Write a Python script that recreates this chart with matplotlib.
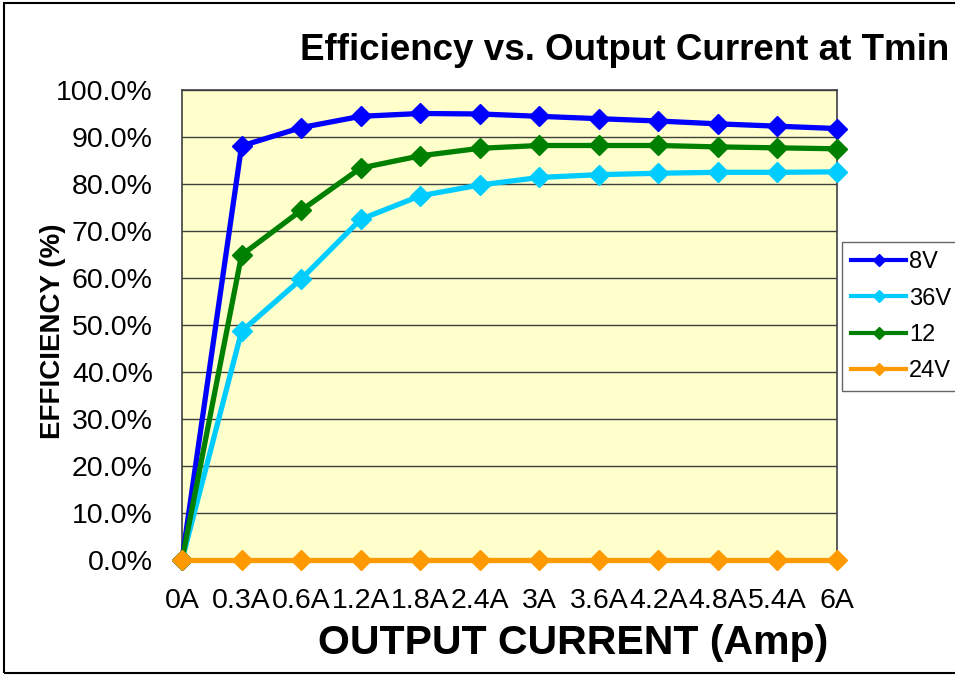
import matplotlib
matplotlib.use("Agg")
import matplotlib.pyplot as plt
from matplotlib.lines import Line2D
from matplotlib.patches import Rectangle
from matplotlib.ticker import FuncFormatter

plt.rcParams['font.family'] = ['Liberation Sans', 'DejaVu Sans']

currents = ["0A", "0.3A", "0.6A", "1.2A", "1.8A", "2.4A", "3A", "3.6A",
            "4.2A", "4.8A", "5.4A", "6A"]
eff_8v = [0.0, 88.0, 91.9, 94.3, 94.9, 94.8, 94.3, 93.8, 93.3, 92.7, 92.2, 91.7]
eff_36v = [0.0, 48.6, 59.7, 72.4, 77.4, 79.7, 81.3, 81.9, 82.2, 82.4, 82.4, 82.5]
eff_12v = [0.0, 64.8, 74.3, 83.3, 85.9, 87.5, 88.1, 88.1, 88.1, 87.8, 87.6, 87.4]
eff_24v = [0.0] * 12

series = [
    ("8V", eff_8v, "#0000FF"),
    ("36V", eff_36v, "#00CCFF"),
    ("12", eff_12v, "#008000"),
    ("24V", eff_24v, "#FF9900"),
]

W, H = 955, 675
fig = plt.figure(figsize=(W / 100, H / 100), dpi=100)
ax = fig.add_axes([182 / W, 1 - 560 / H, (837 - 182) / W, (560 - 89.5) / H])
ax.set_facecolor("#FFFFCC")

x = list(range(len(currents)))
handles = []
for name, vals, col in series:
    ax.plot(x, [v / 100 for v in vals], color=col, lw=3.8, marker="D",
            ms=10.5, clip_on=False, zorder=3)
    handles.append(Line2D([], [], color=col, lw=3, marker="D", ms=6))

ax.set_xlim(0, len(currents) - 1)
ax.set_ylim(0, 1)
ax.set_yticks([i / 10 for i in range(11)])
ax.yaxis.set_major_formatter(FuncFormatter(lambda v, p: f"{v * 100:.1f}%"))
ax.set_xticks(x)
ax.set_xticklabels(currents)
ax.tick_params(axis="y", length=0, pad=21, labelsize=20.5)
ax.tick_params(axis="x", length=0, pad=20, labelsize=20.5)
ax.grid(axis="y", color="#404040", lw=1)
ax.set_axisbelow(True)
for s in ax.spines.values():
    s.set_color("#404040")
    s.set_linewidth(1.2)

fig.text(300 / W, 1 - 60 / H, "Efficiency vs. Output Current at Tmin",
         fontsize=26.5, fontweight="bold", ha="left", va="baseline")
fig.text(318 / W, 1 - 654 / H, "OUTPUT CURRENT (Amp)", fontsize=29.5,
         fontweight="bold", ha="left", va="baseline")
fig.text(53 / W, 1 - 331 / H, "EFFICIENCY (%)", fontsize=20, fontweight="bold",
         rotation=90, ha="center", va="center")

leg = ax.legend(handles, [s[0] for s in series], loc="upper left",
                bbox_to_anchor=(842 / W, 1 - 242 / H),
                bbox_transform=fig.transFigure, fontsize=17, frameon=True,
                fancybox=False, borderaxespad=0, borderpad=0.4,
                labelspacing=0.6, handlelength=2.3, handletextpad=0.15)
leg.get_frame().set_edgecolor("#404040")
leg.get_frame().set_linewidth(1)

fig.add_artist(Rectangle((4 / W, 2 / H), 1.0, 1 - 5 / H, transform=fig.transFigure,
                         fill=False, ec="black", lw=1.5))

fig.savefig("out.png", dpi=100)
